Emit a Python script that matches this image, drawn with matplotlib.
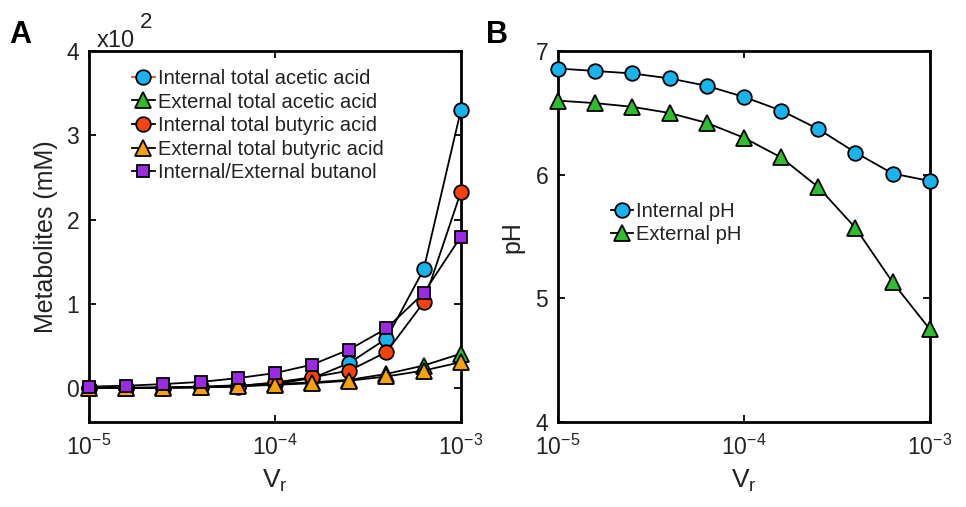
import numpy as np
import matplotlib
matplotlib.use("Agg")
import matplotlib.pyplot as plt
from matplotlib.lines import Line2D

plt.rcParams["font.family"] = ["Liberation Sans", "DejaVu Sans"]
plt.rcParams["mathtext.fontset"] = "custom"
plt.rcParams["mathtext.rm"] = "Liberation Sans"
plt.rcParams["mathtext.it"] = "Liberation Sans"

# reactor volume ratio, 0.2-decade steps
vr = 10.0 ** np.arange(-5, -2.99, 0.2)

# metabolites, in units of 100 mM
int_acetic = [0.002, 0.004, 0.006, 0.01, 0.02, 0.05, 0.12, 0.30, 0.59, 1.41, 3.30]
ext_acetic = [0.004, 0.006, 0.01, 0.02, 0.035, 0.05, 0.07, 0.10, 0.17, 0.27, 0.41]
int_butyric = [0.002, 0.004, 0.006, 0.01, 0.025, 0.07, 0.13, 0.21, 0.43, 1.02, 2.33]
ext_butyric = [0.003, 0.005, 0.008, 0.015, 0.025, 0.04, 0.06, 0.09, 0.14, 0.21, 0.31]
butanol = [0.02, 0.03, 0.05, 0.075, 0.12, 0.18, 0.28, 0.46, 0.71, 1.13, 1.80]

# pH
int_ph = [6.86, 6.84, 6.82, 6.78, 6.72, 6.63, 6.52, 6.37, 6.18, 6.01, 5.95]
ext_ph = [6.60, 6.58, 6.55, 6.50, 6.42, 6.30, 6.14, 5.90, 5.57, 5.13, 4.75]

C_CYAN = "#17B4EE"
C_GREEN = "#2DBE2D"
C_RED = "#F5420F"
C_ORANGE = "#F7A20A"
C_PURPLE = "#9A2BE3"
TXT = "#222222"

fig = plt.figure(figsize=(9.66, 5.07), dpi=100)
axA = fig.add_axes([0.0921, 0.1677, 0.385, 0.7313])
axB = fig.add_axes([0.5776, 0.1677, 0.385, 0.7313])

line_kw = dict(color="black", lw=1.3, mec="black", mew=1.3)

series_a = [
    (int_acetic, "o", C_CYAN, 10.5, "Internal total acetic acid"),
    (ext_acetic, "^", C_GREEN, 11, "External total acetic acid"),
    (int_butyric, "o", C_RED, 10.5, "Internal total butyric acid"),
    (ext_butyric, "^", C_ORANGE, 11, "External total butyric acid"),
    (butanol, "s", C_PURPLE, 9, "Internal/External butanol"),
]
handles = []
for vals, mk, col, ms, lab in series_a:
    axA.plot(vr, vals, marker=mk, mfc=col, ms=ms, clip_on=False, zorder=3, **line_kw)
    handles.append(Line2D([], [], marker=mk, mfc=col, ms=ms, label=lab, **line_kw))
handles[0].set_color("#D9531E")

axA.set_ylim(-0.4, 4)
axA.set_yticks([0, 1, 2, 3, 4])
axA.legend(handles=handles, loc="upper left", bbox_to_anchor=(0.095, 0.974),
           frameon=False, fontsize=14.5, handlelength=1.1, handletextpad=0.15,
           labelspacing=0.23, borderaxespad=0, labelcolor=TXT)
axA.set_ylabel("Metabolites (mM)", fontsize=18, color=TXT, labelpad=6)
axA.text(0.022, 1.011, "x10", transform=axA.transAxes, fontsize=17,
         color=TXT, ha="left", va="baseline")
axA.text(0.137, 1.062, "2", transform=axA.transAxes, fontsize=16,
         color=TXT, ha="left", va="baseline")

axB.plot(vr, int_ph, marker="o", mfc=C_CYAN, ms=10.5, clip_on=False, zorder=3,
         label="Internal pH", **line_kw)
axB.plot(vr, ext_ph, marker="^", mfc=C_GREEN, ms=11, clip_on=False, zorder=3,
         label="External pH", **line_kw)
axB.set_ylim(4, 7)
axB.set_yticks([4, 5, 6, 7])
axB.legend(loc="upper left", bbox_to_anchor=(0.12, 0.616), frameon=False,
           fontsize=14.5, handlelength=1.1, handletextpad=0.15,
           labelspacing=0.23, borderaxespad=0, labelcolor=TXT)
axB.set_ylabel("pH", fontsize=18, color=TXT, labelpad=8)

for ax in (axA, axB):
    ax.set_xscale("log")
    ax.set_xlim(1e-5, 1e-3)
    ax.set_xticks([1e-5, 1e-4, 1e-3])
    ax.minorticks_off()
    ax.tick_params(direction="in", length=5, width=1.3, top=True, right=True,
                   labelsize=16.5, labelcolor=TXT)
    ax.tick_params(axis="x", pad=9)
    ax.tick_params(axis="y", pad=7)
    for sp in ax.spines.values():
        sp.set_linewidth(2)
    ax.set_xlabel(r"V$_\mathregular{r}$", fontsize=19, color=TXT, labelpad=6)

fig.text(0.010, 0.93, "A", fontsize=22, fontweight="bold", ha="left", va="center")
fig.text(0.503, 0.93, "B", fontsize=22, fontweight="bold", ha="left", va="center")

fig.savefig("out.png", dpi=100)
